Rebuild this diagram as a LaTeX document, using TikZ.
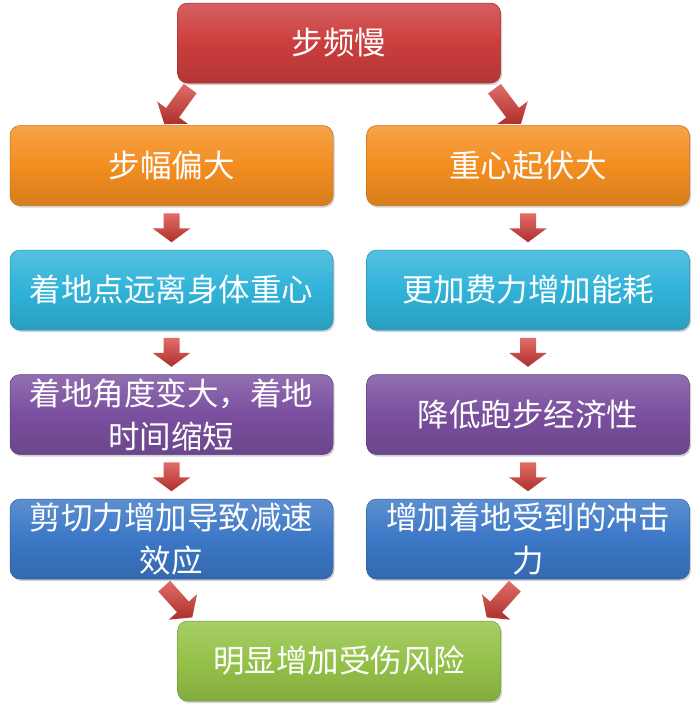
\documentclass[tikz,border=0pt]{standalone}
\usepackage{fontspec}
\newfontfamily\cjk{Noto Sans CJK SC}
\usetikzlibrary{positioning, calc, shadows}
\definecolor{slowred}{HTML}{CC3D3D}
\definecolor{strideorange}{HTML}{F38E20}
\definecolor{reachcyan}{HTML}{30B3D9}
\definecolor{anglepurple}{HTML}{7A4F9F}
\definecolor{brakeblue}{HTML}{3B77C6}
\definecolor{riskgreen}{HTML}{94C248}
\definecolor{arrowred}{HTML}{D83C36}
\tikzset{
  stepbox/.style={
    rectangle,
    rounded corners=10pt,
    draw=#1!80!black,
    line width=0.5pt,
    top color=#1!82!white,
    bottom color=#1!88!black,
    middle color=#1,
    minimum width=323pt,
    minimum height=80pt,
    inner sep=2pt,
    align=center,
    text=white,
    font=\cjk\fontsize{31.5}{43}\selectfont,
    drop shadow={opacity=0.35, shadow xshift=1.5pt, shadow yshift=-2pt}
  },
  pics/blockarrow/.style={code={
    \shade[top color=arrowred!75!white, bottom color=arrowred!80!black]
      (-8,-#1/2) -- (8,-#1/2) -- (8,#1/2-14) -- (19,#1/2-14) -- (0,#1/2)
      -- (-19,#1/2-14) -- (-8,#1/2-14) -- cycle;
  }}
}
\begin{document}
\begin{tikzpicture}[x=1pt, y=-1pt]
  \useasboundingbox (0,0) rectangle (700,710);
  \node[stepbox=slowred] (slow) at (339,43) {步频慢};

  \node[stepbox=strideorange] (stride) at (171.5,165.5) {步幅偏大};
  \node[stepbox=strideorange, right=33pt of stride] (bob) {重心起伏大};

  \node[stepbox=reachcyan, below=44pt of stride] (reach) {着地点远离身体重心};
  \node[stepbox=reachcyan, right=33pt of reach] (effort) {更加费力增加能耗};

  \node[stepbox=anglepurple, below=44pt of reach] (angle) {着地角度变大，着地\\时间缩短};
  \node[stepbox=anglepurple, right=33pt of angle] (economy) {降低跑步经济性};

  \node[stepbox=brakeblue, below=44pt of angle] (brake) {剪切力增加导致减速\\效应};
  \node[stepbox=brakeblue, right=33pt of brake] (impact) {增加着地受到的冲击\\力};

  \node[stepbox=riskgreen] (risk) at (339,661) {明显增加受伤风险};

  \pic[rotate=-36] at ($(slow.south west)+(0,23)$) {blockarrow=44};
  \pic[rotate=37] at ($(slow.south east)+(7,23)$) {blockarrow=44};
  \pic at ($(stride.south)!0.5!(reach.north)$) {blockarrow=29};
  \pic at ($(bob.south)!0.5!(effort.north)$) {blockarrow=29};
  \pic at ($(reach.south)!0.5!(angle.north)$) {blockarrow=29};
  \pic at ($(effort.south)!0.5!(economy.north)$) {blockarrow=29};
  \pic at ($(angle.south)!0.5!(brake.north)$) {blockarrow=29};
  \pic at ($(economy.south)!0.5!(impact.north)$) {blockarrow=29};
  \pic[rotate=42] at ($(risk.north west)+(1,-19)$) {blockarrow=42};
  \pic[rotate=-42] at ($(risk.north east)+(0,-19)$) {blockarrow=42};
\end{tikzpicture}
\end{document}
